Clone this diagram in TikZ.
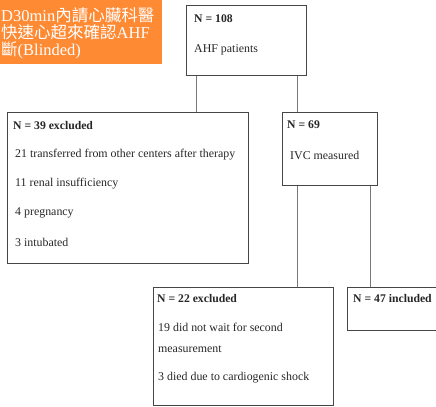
\documentclass[tikz,border=0pt]{standalone}
\usepackage{fontspec}
\setmainfont{Liberation Serif}
\newfontfamily\cjk{Noto Sans CJK TC}
\usetikzlibrary{calc}
\definecolor{orangebg}{RGB}{255,138,52}
\definecolor{boxline}{RGB}{70,70,70}
\definecolor{conline}{RGB}{120,120,120}
\tikzset{
  box/.style={draw=boxline, line width=0.9bp, inner sep=0pt, anchor=north west},
  txt/.style={anchor=west, inner sep=0pt, font=\fontsize{11.9bp}{13bp}\selectfont, text=black!85},
  btxt/.style={txt, font=\fontsize{11.7bp}{13bp}\selectfont\bfseries},
  conn/.style={draw=conline, line width=0.9bp},
  otxt/.style={anchor=west, inner sep=0pt, text=white, font=\fontsize{16.5bp}{18bp}\selectfont}
}
\begin{document}
\begin{tikzpicture}[x=1bp,y=-1bp]
\useasboundingbox (0,0) rectangle (436,406);
\clip (0,0) rectangle (436,406);
% orange label
\node[fill=orangebg, inner sep=0pt, minimum width=162bp, minimum height=64bp, anchor=north west] (lab) at (0,0) {};
\node[otxt] (l1) at (1,15) {D30min{\cjk 內請心臟科醫}};
\node[otxt] (l2) at (1,32) {{\cjk 快速心超來確認}AHF};
\node[otxt] (l3) at (1,50) {{\cjk 斷}(Blinded)};
% boxes
\node[box, minimum width=120bp, minimum height=70bp] (top) at (186,5) {};
\node[box, minimum width=241bp, minimum height=151bp] (lft) at (7,112) {};
\node[box, minimum width=95bp, minimum height=73bp] (mid) at (282,112) {};
\node[box, minimum width=180bp, minimum height=118bp] (exc) at (153,287) {};
\node[box, minimum width=110bp, minimum height=43bp] (inc) at (347,287) {};
% texts
\node[btxt] (t1) at (194,19) {N = 108};
\node[txt] (t2) at (194,50) {AHF patients};
\node[btxt] (a1) at (13,126) {N = 39 excluded};
\node[txt] (a2) at (15,155) {21 transferred from other centers after therapy};
\node[txt] (a3) at (15,184) {11 renal insufficiency};
\node[txt] (a4) at (15,213) {4 pregnancy};
\node[txt] (a5) at (15,242) {3 intubated};
\node[btxt] (m1) at (287,125) {N = 69};
\node[txt] (m2) at (290,155) {IVC measured};
\node[btxt] (e1) at (157,299) {N = 22 excluded};
\node[txt] (e2) at (158,327) {19 did not wait for second};
\node[txt] (e3) at (158,349) {measurement};
\node[txt] (e4) at (158,378) {3 died due to cardiogenic shock};
\node[btxt] (i1) at (353,299) {N = 47 included};
% connectors
\draw[conn] ([xshift=10bp]top.south west) -- ([xshift=10bp]top.south west |- lft.north);
\draw[conn] ([xshift=-9bp]top.south east) -- ([xshift=-9bp]top.south east |- mid.north);
\draw[conn] ([xshift=15bp]mid.south west) -- ([xshift=15bp]mid.south west |- exc.north);
\draw[conn] ([xshift=-7bp]mid.south east) -- ([xshift=-7bp]mid.south east |- inc.north);
\end{tikzpicture}
\end{document}
